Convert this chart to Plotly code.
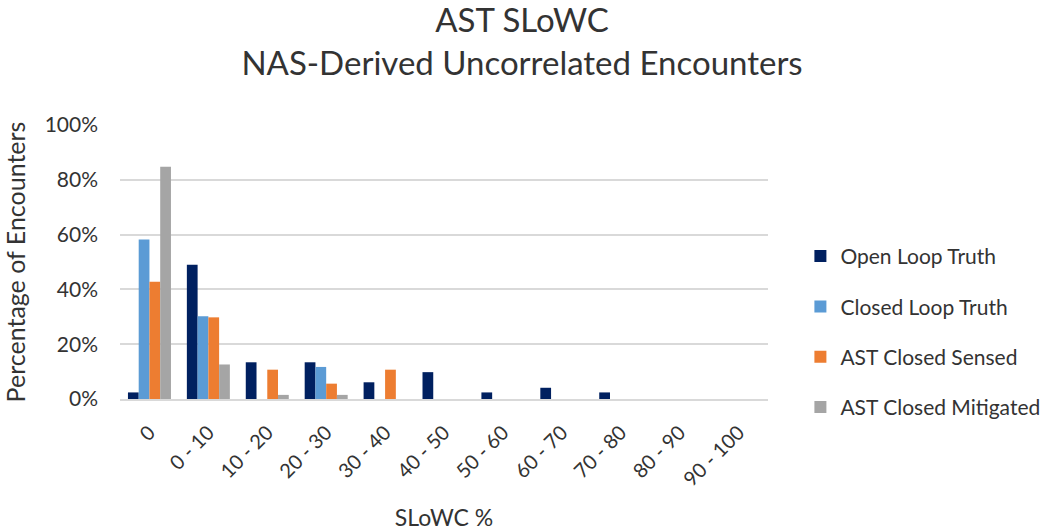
import plotly.graph_objects as go

categories = ['0', '0 - 10', '10 - 20', '20 - 30', '30 - 40', '40 - 50',
              '50 - 60', '60 - 70', '70 - 80', '80 - 90', '90 - 100']

open_loop_truth = [2.4, 49.0, 13.4, 13.4, 6.1, 9.8, 2.4, 4.1, 2.4, 0, 0]
closed_loop_truth = [58.2, 30.2, 0, 11.7, 0, 0, 0, 0, 0, 0, 0]
ast_closed_sensed = [42.8, 29.8, 10.7, 5.6, 10.7, 0, 0, 0, 0, 0, 0]
ast_closed_mitigated = [84.8, 12.6, 1.5, 1.5, 0, 0, 0, 0, 0, 0, 0]

series = [
    ('Open Loop Truth', open_loop_truth, '#002060'),
    ('Closed Loop Truth', closed_loop_truth, '#5B9BD5'),
    ('AST Closed Sensed', ast_closed_sensed, '#ED7D31'),
    ('AST Closed Mitigated', ast_closed_mitigated, '#A5A5A5'),
]

font_family = 'Lato, Carlito, Calibri, sans-serif'
text_color = '#333333'

fig = go.Figure()
for name, vals, color in series:
    fig.add_trace(go.Bar(
        x=categories, y=vals, name=name, legendgroup=name,
        marker=dict(color=color, line=dict(width=0)),
    ))

fig.update_layout(
    width=1044, height=531,
    paper_bgcolor='white', plot_bgcolor='white',
    font=dict(family=font_family, color=text_color, size=19),
    title=dict(
        text='AST SLoWC<br>NAS-Derived Uncorrelated Encounters',
        x=0.5, xanchor='center', y=0.94, yanchor='top',
        font=dict(size=33, color=text_color),
    ),
    barmode='group', bargap=0.27, bargroupgap=0,
    margin=dict(l=120, r=276, t=125, b=132, autoexpand=False),
    legend=dict(
        x=1.05, xanchor='left', y=0.595, yanchor='top',
        font=dict(size=21, color=text_color),
        tracegroupgap=20, itemwidth=30,
    ),
    showlegend=True,
)

fig.update_yaxes(
    range=[0, 100], dtick=20, ticksuffix='%',
    showgrid=True, gridcolor='#D9D9D9', gridwidth=2,
    zeroline=False, showline=False, automargin=False,
    ticklabelstandoff=21,
    tickfont=dict(size=21, color=text_color),
    title=dict(text='Percentage of Encounters', font=dict(size=25, color=text_color), standoff=17),
)
fig.update_xaxes(
    tickangle=-45, showline=True, linecolor='#D9D9D9', linewidth=2,
    automargin=False, ticklabelstandoff=12,
    tickfont=dict(size=20, color=text_color),
    title=dict(text='SLoWC %', font=dict(size=23, color=text_color), standoff=22),
)

fig.write_html('out.html', config={'displayModeBar': False},
               post_script="document.body.style.margin='0';")
